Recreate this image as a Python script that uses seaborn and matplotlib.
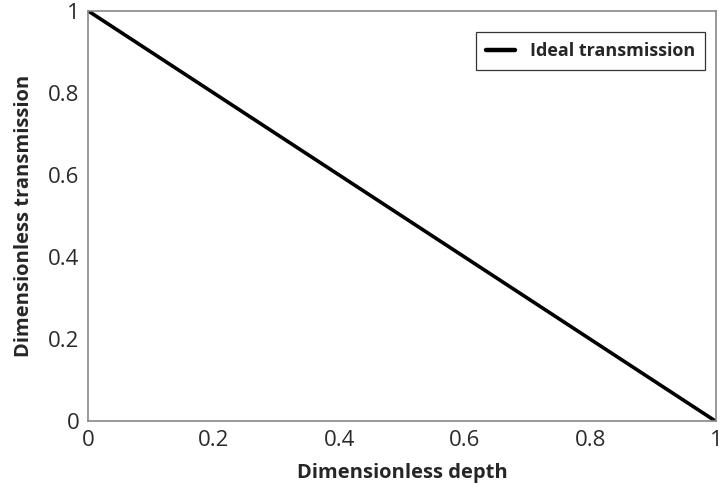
import numpy as np
import pandas as pd
import matplotlib
matplotlib.use("Agg")
import matplotlib.pyplot as plt
import seaborn as sns

# data
depth = [0.0, 1.0]
transmission = [1.0, 0.0]
series_name = "Ideal transmission"
xticks = [0, 0.2, 0.4, 0.6, 0.8, 1]
yticks = [0, 0.2, 0.4, 0.6, 0.8, 1]
xtick_labels = ["0", "0.2", "0.4", "0.6", "0.8", "1"]
ytick_labels = ["0", "0.2", "0.4", "0.6", "0.8", "1"]

df = pd.DataFrame({"depth": depth, "transmission": transmission,
                   "series": series_name})

sns.set_style("white")
plt.rcParams["font.family"] = ["Open Sans", "DejaVu Sans"]

fig = plt.figure(figsize=(7.21, 4.90), dpi=100)
ax = fig.add_axes([0.122, 0.140, 0.871, 0.838])

sns.lineplot(data=df, x="depth", y="transmission", hue="series",
             palette=["black"], linewidth=2.6, ax=ax)

ax.set_xlim(0, 1)
ax.set_ylim(0, 1)
ax.set_xticks(xticks)
ax.set_xticklabels(xtick_labels)
ax.set_yticks(yticks)
ax.set_yticklabels(ytick_labels)
ax.tick_params(direction="in", length=4, color="#888888", labelsize=16,
               labelcolor="#2a2a2a", pad=6)
for sp in ax.spines.values():
    sp.set_color("#888888")
    sp.set_linewidth(1.2)

ax.set_xlabel("Dimensionless depth", fontsize=14.5, fontweight="bold", labelpad=9)
ax.set_ylabel("Dimensionless transmission", fontsize=14.5, fontweight="bold", labelpad=10)

leg = ax.legend(loc="upper right", bbox_to_anchor=(0.997, 0.97), fancybox=False,
                frameon=True, handlelength=1.6, handletextpad=0.85,
                borderpad=0.55, borderaxespad=0.5,
                prop={"weight": "bold", "size": 13})
leg.get_frame().set_edgecolor("black")
leg.get_frame().set_linewidth(0.9)
for line in leg.get_lines():
    line.set_linewidth(3.2)

fig.savefig("out.png", dpi=100)
